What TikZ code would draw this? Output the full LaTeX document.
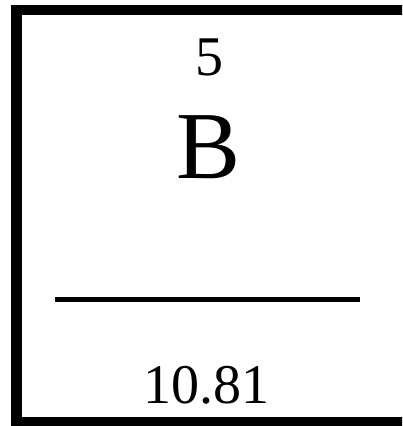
\documentclass[tikz,border=0pt]{standalone}
\usepackage{fontspec}
\setmainfont{Liberation Serif}
\usetikzlibrary{positioning}

\begin{document}
\begin{tikzpicture}[
    x=1pt, y=-1pt,
    frame/.style={draw, line width=10.5pt},
    bar/.style={draw, line width=4.5pt},
    small/.style={font=\fontsize{56}{60}\selectfont, inner sep=0pt, anchor=base},
    big/.style={font=\fontsize{96}{100}\selectfont, inner sep=0pt, anchor=base},
]

% page
\useasboundingbox (0,0) rectangle (402,426);
\clip (0,0) rectangle (402,426);

% element cell
\draw[frame] (16.5,10) rectangle (410,422);

% labels
\node[small] (number) at (209,75) {5};
\node[big] (symbol) at (209,178) {B};
\node[small] (mass) at (206,403) {10.81};

% divider
\coordinate (barL) at (55,299.5);
\coordinate (barR) at (360,299.5);
\draw[bar] (barL) -- (barR);

\end{tikzpicture}
\end{document}
